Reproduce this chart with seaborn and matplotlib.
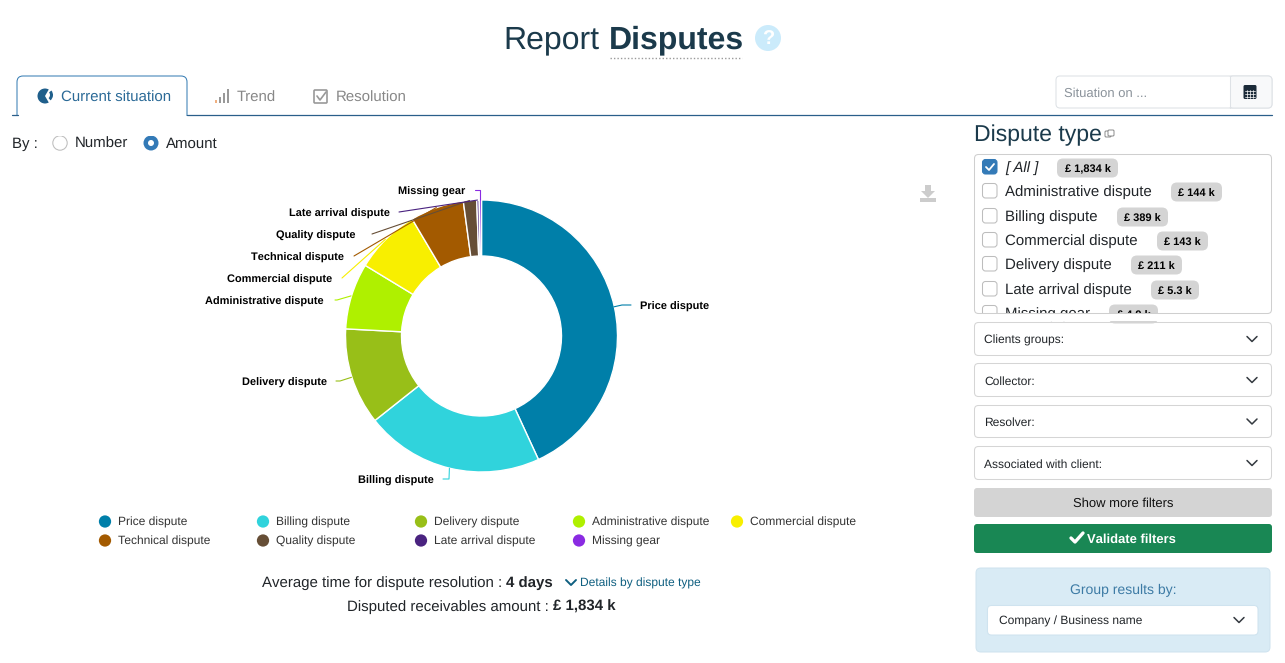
import numpy as np
import pandas as pd
import matplotlib.pyplot as plt
import seaborn as sns
from matplotlib.patches import FancyBboxPatch, Circle, Rectangle, Wedge, Polygon

# chart data
categories = ["Price dispute", "Billing dispute", "Delivery dispute", "Administrative dispute",
              "Commercial dispute", "Technical dispute", "Quality dispute", "Late arrival dispute", "Missing gear"]
amounts = [791, 389, 211, 144, 143, 117, 29, 5.3, 4.9]
colors = ["#007FA9", "#30D3DC", "#98BF18", "#AFF000", "#F8EF00", "#A35A00", "#664E36", "#4A2380", "#8A2BE2"]

# filter list on the right
filter_names = ["Administrative dispute", "Billing dispute", "Commercial dispute",
                "Delivery dispute", "Late arrival dispute", "Missing gear"]
filter_badges = ["£ 144 k", "£ 389 k", "£ 143 k", "£ 211 k", "£ 5.3 k", "£ 4.9 k"]
dropdowns = ["Clients groups:", "Collector:", "Resolver:", "Associated with client:"]

sns.set_theme(style="white")
plt.rcParams['font.family'] = ['Liberation Sans', 'DejaVu Sans']
plt.rcParams['text.hinting'] = 'no_hinting'
plt.rcParams['text.hinting_factor'] = 1

W, H = 1285, 663
CX, CY, R = 481, 336, 136


def fs(px):
    return px * 0.72


fig = plt.figure(figsize=(W / 100, H / 100), dpi=100)
fig.patch.set_facecolor("white")

# donut
pie_ax = fig.add_axes([(CX + 0.5 - 1.1 * R) / W, 1 - (CY + 1.1 * R) / H, 2.2 * R / W, 2.2 * R / H])
wedges, _ = pie_ax.pie(amounts, colors=sns.color_palette(colors), startangle=90, counterclock=False,
                       radius=1, wedgeprops={"width": 56 / 136, "edgecolor": "white", "linewidth": 1.0})
pie_ax.set_xlim(-1.1, 1.1)
pie_ax.set_ylim(-1.1, 1.1)

# everything else is drawn in page pixels
ax = fig.add_axes([0, 0, 1, 1])
ax.set_xlim(0, W)
ax.set_ylim(H, 0)
ax.axis("off")


def box(x0, y0, x1, y1, fc="white", ec="#CFCFCF", r=4, lw=0.75, z=2):
    ax.add_patch(FancyBboxPatch((x0, y0), x1 - x0, y1 - y0, boxstyle=f"round,pad=0,rounding_size={r}",
                                fc=fc, ec=ec, lw=lw, zorder=z))


def label(x, y, s, px=15, color="#212529", weight="normal", ha="left", style="normal", z=5):
    dy = 1.6 if px < 14 else 1.2
    return ax.text(x, y + dy, s, fontsize=fs(px), color=color, fontweight=weight, ha=ha, va="center",
                   fontstyle=style, zorder=z)


def chevron(x, y, color="#343A40"):
    ax.plot([x - 5, x, x + 5], [y - 2.5, y + 2.5, y - 2.5], color=color, lw=1.1, zorder=5)


# slice labels and connectors
label_x = [640, 434, 327, 324, 332, 344, 356, 390, 465]
label_y = [305, 479, 381, 300, 278, 256, 234, 212, 190]
label_ha = ["left", "right", "right", "right", "right", "right", "right", "right", "right"]
line_x = [631, 443, 336, 335, 342, 354, 372, 399, 475]
line_y = [305, 479, 381, 300, 278, 256, 234, 212, 190]
knee_gap = [-9, 6, 4, 2, 0, 0, 0, 0, 0]
for i, w in enumerate(wedges):
    mid = np.deg2rad((w.theta1 + w.theta2) / 2)
    ex = CX + R * np.cos(mid)
    ey = CY - R * np.sin(mid)
    if categories[i] == "Missing gear":
        ax.plot([line_x[i], ex, ex], [line_y[i], line_y[i], ey], color=colors[i], lw=0.8, zorder=3)
    else:
        ax.plot([line_x[i], line_x[i] + knee_gap[i], ex], [line_y[i], line_y[i], ey],
                color=colors[i], lw=0.8, zorder=3)
    label(label_x[i], label_y[i], categories[i], px=10.75, color="black", weight="bold", ha=label_ha[i])

# legend, 5 columns
cols = np.arange(len(categories)) % 5
rows = np.arange(len(categories)) // 5
legend_df = pd.DataFrame({"x": 105 + 158 * cols, "y": 521.5 + 19 * rows, "name": categories})
sns.scatterplot(data=legend_df, x="x", y="y", hue="name", palette=colors, s=78, linewidth=0,
                legend=False, ax=ax, zorder=4)
ax.set_xlim(0, W)
ax.set_ylim(H, 0)
ax.axis("off")
for _, row in legend_df.iterrows():
    label(row["x"] + 13, row["y"] - 0.5, row["name"], px=12, color="#333333")

# title
label(503, 39, "Report", px=32, color="#1B3A4B")
label(609, 39, "Disputes", px=32, color="#1B3A4B", weight="bold")
ax.plot([610, 742], [58, 58], color="#9A9A9A", lw=1, ls=(0, (1, 1.5)))
ax.add_patch(Circle((768, 38), 13, fc="#CBEBFB", ec="none"))
label(768, 38, "?", px=20, color="white", weight="bold", ha="center")

# tabs
box(17, 76, 187, 130, ec="#3A7FB5", r=6, z=2)
ax.add_patch(Rectangle((10, 115.5), 190, 20, fc="white", ec="none", zorder=3))
ax.plot([12, 17.5], [115, 115], color="#2A5F8A", lw=0.9, zorder=4)
ax.plot([186.5, 1272], [115, 115], color="#2A5F8A", lw=0.9, zorder=4)
ax.add_patch(Wedge((45, 96), 7.5, 60, 300, fc="#1F5F8B", ec="none", zorder=5))
ax.add_patch(Wedge((46, 95), 7, -40, 50, width=3, fc="#1F5F8B", ec="none", zorder=5))
label(61, 97, "Current situation", px=15.4, color="#2B6A97")
for i, h in enumerate([3, 6, 10, 14]):
    ax.add_patch(Rectangle((214.5 + 4 * i, 103 - h), 2.8, h, fc="#F0B080" if i == 0 else "#999999", ec="none", zorder=5))
label(237, 97, "Trend", px=15.4, color="#888888")
box(314, 90, 327, 103, fc="white", ec="#999999", r=1, lw=1.2, z=5)
ax.plot([317, 320, 326], [96, 100, 92], color="#999999", lw=1.2, zorder=6)
label(336, 97, "Resolution", px=15.4, color="#888888")

# situation date input
box(1056, 76, 1272, 108, ec="#DEE2E6")
box(1229, 76, 1272, 108, fc="#F8F9FA", ec="#DEE2E6")
ax.add_patch(Rectangle((1225, 77), 6, 30, fc="white", ec="none", zorder=3))
ax.plot([1229.5, 1229.5], [76, 108], color="#DEE2E6", lw=0.75, zorder=4)
label(1064, 92, "Situation on ...", px=12.5, color="#8A929A")
box(1243.5, 85, 1256.5, 99, fc="#1C2B39", ec="none", r=1.5, z=5)
for gy in [90.5, 93.5, 96.5]:
    ax.plot([1245, 1255], [gy, gy], color="white", lw=0.5, zorder=6)
for gx in [1247, 1250, 1253]:
    ax.plot([gx, gx], [90, 98], color="white", lw=0.5, zorder=6)

# radio buttons
label(12, 143, "By :", px=15)
ax.add_patch(Circle((60, 143), 7.2, fc="white", ec="#BDBDBD", lw=0.75))
label(75, 143, "Number", px=15)
ax.add_patch(Circle((151, 143), 7.5, fc="#337AB7", ec="none"))
ax.add_patch(Circle((151, 143), 3, fc="white", ec="none", zorder=3))
label(166, 143, "Amount", px=15)

# download icon
ax.add_patch(Polygon([[925, 185], [931, 185], [931, 191], [935, 191], [928, 198], [921, 191], [925, 191]],
                     fc="#CCCCCC", ec="none"))
ax.add_patch(Rectangle((920, 198), 16, 4, fc="#CCCCCC", ec="none"))

# bottom text
label(262, 582, "Average time for dispute resolution :", px=15)
label(506, 582, "4 days", px=15, weight="bold")
ax.plot([566, 571, 576], [580, 585, 580], color="#0F5F80", lw=1.4)
label(580, 582, "Details by dispute type", px=12, color="#0F5F80")
label(347, 606, "Disputed receivables amount :", px=15)
label(553, 606, "£ 1,834 k", px=15, weight="bold")

# dispute type panel
label(974, 134, "Dispute type", px=22.6, color="#1B3A4B")
box(1105, 131, 1111, 137, ec="#777777", r=1, lw=0.6)
box(1108, 130, 1114, 136, ec="#777777", r=1, lw=0.6, z=3)


def badge(x0, x1, y, s, z=4):
    box(x0, y - 9.5, x1, y + 9.5, fc="#D4D4D4", ec="none", r=6, z=z)
    label((x0 + x1) / 2, y, s, px=11.5, color="black", weight="bold", ha="center", z=z + 1)


box(982.5, 159.5, 997, 174, fc="#337AB7", ec="#337AB7", r=3, z=4)
ax.plot([986, 989, 994], [167, 170, 164], color="white", lw=1.3, zorder=5)
label(1005, 167, "[ All ]", px=15, style="italic")
badge(1057, 1118, 168, "£ 1,834 k")

item_y = [191, 216, 240, 264, 289, 313]
badge_x = [1171, 1117, 1157, 1131, 1151, 1109]
badge_w = [51, 51, 51, 51, 48, 49]
for i, name in enumerate(filter_names):
    box(982.5, item_y[i] - 7.5, 997, item_y[i] + 7, ec="#BDBDBD", r=3, z=3)
    label(1005, item_y[i], name, px=15, z=3)
    badge(badge_x[i], badge_x[i] + badge_w[i], item_y[i] + 1, filter_badges[i], z=3)

# clip the scrolled list at its lower edge
ax.add_patch(Rectangle((974, 314), 299, 7, fc="white", ec="none", zorder=6))
ax.add_patch(FancyBboxPatch((974.5, 154.5), 297, 159, boxstyle="round,pad=0,rounding_size=4",
                            fc="none", ec="#CFCFCF", lw=0.75, zorder=7))

# filter dropdowns
drop_top = [322, 363, 405, 446]
drop_bot = [356, 397, 438, 480]
for i, name in enumerate(dropdowns):
    box(974.5, drop_top[i] + 0.5, 1271.5, drop_bot[i] - 0.5, ec="#D5D5D5")
    label(984, (drop_top[i] + drop_bot[i]) / 2, name, px=12)
    chevron(1252, (drop_top[i] + drop_bot[i]) / 2)

# buttons
box(974, 488, 1272, 517, fc="#D4D4D4", ec="none", r=3)
label(1123, 502, "Show more filters", px=13, color="#111111", ha="center")
box(974, 524, 1272, 553, fc="#198754", ec="none", r=3)
ax.plot([1071, 1075, 1083], [538, 542, 533], color="white", lw=2.4, zorder=5)
label(1087, 538, "Validate filters", px=13, color="white", weight="bold")

# group results box
box(976, 568, 1270, 652, fc="#D9EBF5", ec="#CFE3EF", r=5)
label(1123, 589, "Group results by:", px=14, color="#3D7BA5", ha="center")
box(987.5, 605.5, 1258, 635, ec="#CFE3EF", r=4, z=3)
label(999, 620, "Company / Business name", px=12)
chevron(1239, 620)

fig.savefig("out.png", dpi=100, facecolor="white")
